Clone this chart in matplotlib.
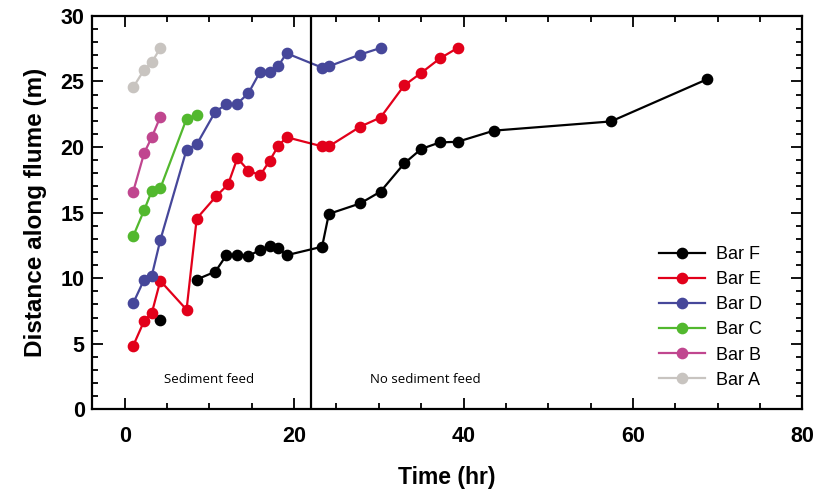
import numpy as np
import matplotlib
matplotlib.use('Agg')
import matplotlib.pyplot as plt
from matplotlib.ticker import MultipleLocator

# data (time in hr, distance in m)
t_a = [1.0, 2.3, 3.2, 4.2]
d_a = [24.55, 25.9, 26.45, 27.55]

t_b = [1.0, 2.3, 3.2, 4.2]
d_b = [16.6, 19.55, 20.75, 22.3]

t_c = [1.0, 2.3, 3.2, 4.2, 7.3, 8.5]
d_c = [13.2, 15.2, 16.65, 16.85, 22.15, 22.45]

t_d = [1.0, 2.3, 3.2, 4.2, 7.3, 8.5, 10.7, 12.0, 13.2, 14.6, 16.0, 17.1, 18.1, 19.1,
       23.3, 24.1, 27.8, 30.2]
d_d = [8.1, 9.9, 10.2, 12.9, 19.8, 20.2, 22.7, 23.25, 23.25, 24.1, 25.75, 25.75, 26.15, 27.15,
       26.05, 26.15, 27.05, 27.55]

t_e = [1.0, 2.3, 3.2, 4.2, 7.3, 8.5, 10.8, 12.2, 13.3, 14.6, 16.0, 17.1, 18.1, 19.1,
       23.3, 24.1, 27.8, 30.2, 33.0, 35.0, 37.2, 39.3]
d_e = [4.85, 6.75, 7.35, 9.8, 7.6, 14.55, 16.25, 17.15, 19.15, 18.2, 17.85, 18.95, 20.05, 20.75,
       20.05, 20.05, 21.55, 22.25, 24.7, 25.65, 26.75, 27.55]

# first point of bar F stands alone (not joined)
t_f = [4.2, np.nan, 8.5, 10.7, 12.0, 13.2, 14.6, 16.0, 17.1, 18.1, 19.1,
       23.3, 24.1, 27.8, 30.2, 33.0, 35.0, 37.2, 39.3, 43.6, 57.4, 68.7]
d_f = [6.85, np.nan, 9.9, 10.5, 11.75, 11.8, 11.7, 12.15, 12.45, 12.3, 11.75,
       12.4, 14.9, 15.7, 16.6, 18.75, 19.85, 20.35, 20.4, 21.25, 21.95, 25.15]

feed_stop = 22

series = [
    ('Bar F', t_f, d_f, '#000000'),
    ('Bar E', t_e, d_e, '#e2001a'),
    ('Bar D', t_d, d_d, '#46479a'),
    ('Bar C', t_c, d_c, '#52b82e'),
    ('Bar B', t_b, d_b, '#c0468f'),
    ('Bar A', t_a, d_a, '#c8c4c0'),
]

bold_font = ['Liberation Sans Narrow', 'Liberation Sans', 'DejaVu Sans']
plt.rcParams['font.family'] = ['Liberation Sans', 'DejaVu Sans']

fig = plt.figure(figsize=(8.15, 4.95), dpi=100)
ax = fig.add_axes([0.1125, 0.173, 0.872, 0.795])

for name, t, d, col in series:
    ax.plot(t, d, '-o', color=col, lw=1.6, ms=7.4, label=name)

ax.axvline(feed_stop, color='black', lw=1.6)

ax.text(10, 2.3, 'Sediment feed', ha='center', va='center', fontsize=9.5,
        family=['Open Sans', 'DejaVu Sans'])
ax.text(35.5, 2.3, 'No sediment feed', ha='center', va='center', fontsize=9.5,
        family=['Open Sans', 'DejaVu Sans'])

ax.set_xlim(-3.9, 80)
ax.set_ylim(0, 30)
ax.xaxis.set_major_locator(MultipleLocator(20))
ax.xaxis.set_minor_locator(MultipleLocator(5))
ax.yaxis.set_major_locator(MultipleLocator(5))
ax.yaxis.set_minor_locator(MultipleLocator(1))
ax.tick_params(which='both', direction='in', top=True, right=True, width=1.3)
ax.tick_params(which='major', length=8)
ax.tick_params(which='minor', length=4.5)
ax.tick_params(axis='x', which='major', pad=12)
ax.tick_params(axis='y', which='major', pad=5)
for sp in ax.spines.values():
    sp.set_linewidth(1.6)

for lab in ax.get_xticklabels() + ax.get_yticklabels():
    lab.set_family(bold_font)
    lab.set_fontweight('bold')
    lab.set_fontsize(15.5)

ax.set_xlabel('Time (hr)', fontsize=16.5, fontweight='bold', family=bold_font, labelpad=14)
ax.set_ylabel('Distance along flume (m)', fontsize=17.5, fontweight='bold', family=bold_font,
              labelpad=10)

ax.legend(loc='upper left', bbox_to_anchor=(0.798, 0.415), frameon=False, fontsize=13,
          handlelength=2.55, numpoints=1, labelspacing=0.45, handletextpad=0.6,
          borderpad=0, borderaxespad=0)

fig.savefig('out.png', dpi=100)
